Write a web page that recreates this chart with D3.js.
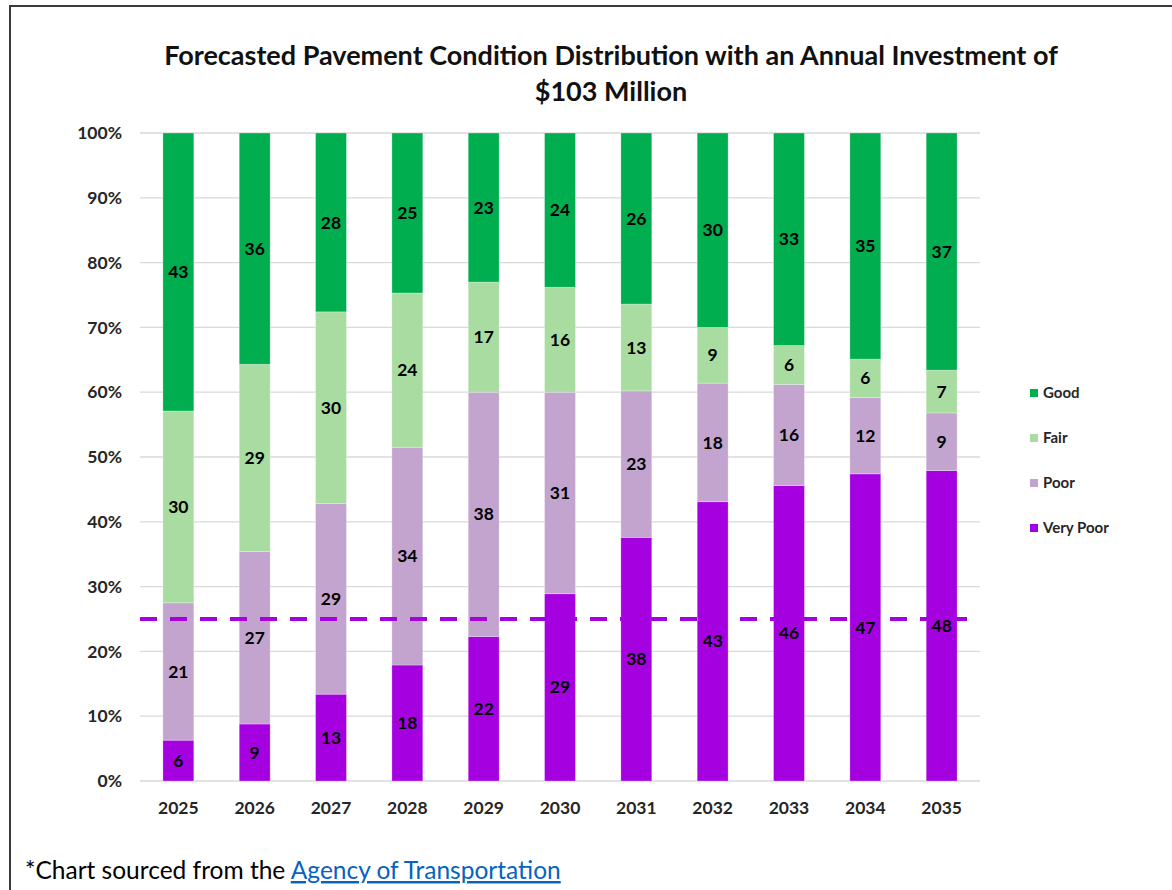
<!DOCTYPE html>
<html>
<head>
<meta charset="utf-8">
<script src="https://cdn.jsdelivr.net/npm/d3@7"></script>
<style>
  body { margin: 0; background: #fff; }
  svg text { font-family: Lato, "Open Sans", sans-serif; }
</style>
</head>
<body>
<div id="chart"></div>
<script>
// years on the x axis
const years = ["2025", "2026", "2027", "2028", "2029", "2030", "2031", "2032", "2033", "2034", "2035"];
// shares (%) per condition
const veryPoor = [6.3, 8.8, 13.4, 17.9, 22.3, 28.9, 37.6, 43.1, 45.6, 47.4, 47.9];
const poor     = [21.2, 26.6, 29.4, 33.6, 37.7, 31.1, 22.6, 18.3, 15.6, 11.8, 8.9];
const fair     = [29.6, 28.9, 29.6, 23.8, 17.0, 16.2, 13.4, 8.6, 6.0, 5.9, 6.6];
const good     = [42.9, 35.7, 27.6, 24.7, 23.0, 23.8, 26.4, 30.0, 32.8, 34.9, 36.6];
const yTicks = [0, 10, 20, 30, 40, 50, 60, 70, 80, 90, 100];
const target = 25;

const keys = ["Very Poor", "Poor", "Fair", "Good"];
const colors = {"Very Poor": "#A500E0", "Poor": "#C2A4CF", "Fair": "#A9DCA0", "Good": "#00AE4F"};
const legendOrder = ["Good", "Fair", "Poor", "Very Poor"];

const width = 1172, height = 890;
const marginLeft = 140, plotRight = 980, plotTop = 133, plotBottom = 781;

const data = years.map((y, i) => ({
    year: y,
    "Very Poor": veryPoor[i],
    "Poor": poor[i],
    "Fair": fair[i],
    "Good": good[i]
}));

const svg = d3.select("#chart").append("svg")
    .attr("width", width)
    .attr("height", height);

// outer frame
svg.append("rect")
    .attr("x", 10).attr("y", 6)
    .attr("width", 1300).attr("height", 1000)
    .attr("fill", "none")
    .attr("stroke", "#3a3a3a")
    .attr("stroke-width", 2);

const x = d3.scaleBand()
    .domain(years)
    .range([marginLeft, plotRight])
    .paddingInner(0.595)
    .paddingOuter(0.3);

const y = d3.scaleLinear()
    .domain([0, 100])
    .range([plotBottom, plotTop]);

// grid
svg.append("g")
    .selectAll("line")
    .data(yTicks)
    .join("line")
    .attr("x1", marginLeft)
    .attr("x2", plotRight)
    .attr("y1", d => y(d))
    .attr("y2", d => y(d))
    .attr("stroke", "#D9D9D9")
    .attr("stroke-width", 1.3);

// y labels
svg.append("g")
    .selectAll("text")
    .data(yTicks)
    .join("text")
    .attr("x", 122)
    .attr("y", d => y(d))
    .attr("dy", "0.35em")
    .attr("text-anchor", "end")
    .style("font-size", "17.5px")
    .style("font-weight", "bold")
    .style("fill", "#262626")
    .text(d => d + "%");

// x labels
svg.append("g")
    .selectAll("text")
    .data(years)
    .join("text")
    .attr("x", d => x(d) + x.bandwidth() / 2)
    .attr("y", 808)
    .attr("dy", "0.35em")
    .attr("text-anchor", "middle")
    .style("font-size", "17.5px")
    .style("font-weight", "bold")
    .style("fill", "#262626")
    .text(d => d);

const stacked = d3.stack().keys(keys)(data);

const layers = svg.append("g")
    .selectAll("g")
    .data(stacked)
    .join("g")
    .attr("fill", d => colors[d.key]);

layers.selectAll("rect")
    .data(d => d)
    .join("rect")
    .attr("x", d => x(d.data.year))
    .attr("width", x.bandwidth())
    .attr("y", d => y(d[1]))
    .attr("height", d => y(d[0]) - y(d[1]))
    .attr("stroke", "#ffffff")
    .attr("stroke-opacity", 0.35)
    .attr("stroke-width", 0.8);

layers.selectAll("text")
    .data(d => d.map(v => ({v, key: d.key})))
    .join("text")
    .attr("x", d => x(d.v.data.year) + x.bandwidth() / 2)
    .attr("y", d => y((d.v[0] + d.v[1]) / 2))
    .attr("dy", "0.35em")
    .attr("text-anchor", "middle")
    .style("font-size", "17.5px")
    .style("font-weight", "bold")
    .style("fill", "#000")
    .text(d => Math.round(d.v.data[d.key]));

// 25% target line
svg.append("line")
    .attr("x1", marginLeft)
    .attr("x2", plotRight)
    .attr("y1", y(target))
    .attr("y2", y(target))
    .attr("stroke", "#A500E0")
    .attr("stroke-width", 4)
    .attr("stroke-dasharray", "17,13");

// legend
const legend = svg.append("g")
    .selectAll("g")
    .data(legendOrder)
    .join("g")
    .attr("transform", (d, i) => `translate(1030, ${393 + i * 45})`);

legend.append("rect")
    .attr("x", 0).attr("y", -4)
    .attr("width", 8).attr("height", 8)
    .attr("fill", d => colors[d]);

legend.append("text")
    .attr("x", 13)
    .attr("y", 0)
    .attr("dy", "0.35em")
    .style("font-size", "15px")
    .style("font-weight", "bold")
    .style("fill", "#262626")
    .text(d => d);

// title
const title = svg.append("text")
    .attr("text-anchor", "middle")
    .style("font-size", "27px")
    .style("font-weight", "bold")
    .style("fill", "#111");
title.append("tspan")
    .attr("x", 611).attr("y", 65)
    .text("Forecasted Pavement Condition Distribution with an Annual Investment of");
title.append("tspan")
    .attr("x", 611).attr("y", 101)
    .text("$103 Million");

// source note
const note = svg.append("text")
    .attr("x", 25)
    .attr("y", 879)
    .style("font-size", "24.5px")
    .style("fill", "#000");
note.append("tspan").text("*Chart sourced from the ");
note.append("tspan")
    .style("fill", "#0563C1")
    .style("text-decoration", "underline")
    .text("Agency of Transportation");
</script>
</body>
</html>
